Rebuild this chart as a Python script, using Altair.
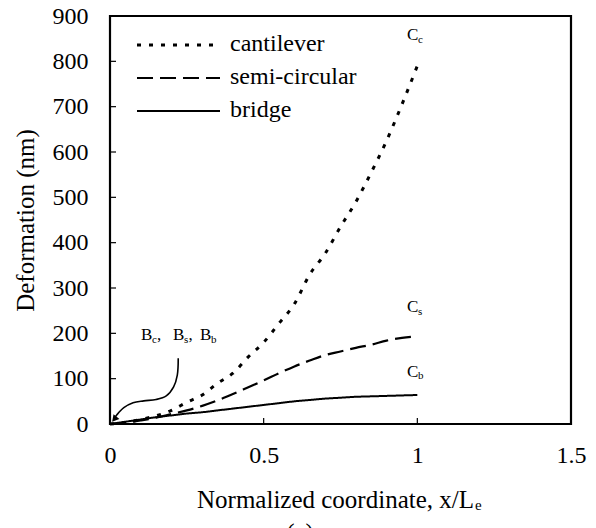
import altair as alt
import pandas as pd

# ---- data ----
x_pos = [0.0, 0.05, 0.1, 0.15, 0.2, 0.25, 0.3, 0.35, 0.4, 0.45, 0.5,
         0.55, 0.6, 0.65, 0.7, 0.75, 0.8, 0.85, 0.9, 0.95, 1.0]
cantilever = [0, 3, 10, 18, 30, 48, 64, 90, 112, 148, 180,
              222, 265, 330, 376, 435, 490, 555, 625, 705, 790]
semi_circular = [0, 3, 8, 14, 22, 30, 40, 52, 66, 81, 96,
                 112, 127, 140, 152, 160, 168, 175, 184, 190, 193]
bridge = [0, 5, 10, 15, 19, 23, 26, 30, 34, 38, 42,
          46, 50, 53, 56, 58, 60, 61, 62, 63, 64]
series_names = ["cantilever", "semi-circular", "bridge"]
series_values = [cantilever, semi_circular, bridge]

x_ticks = [0, 0.5, 1, 1.5]
y_ticks = [0, 100, 200, 300, 400, 500, 600, 700, 800, 900]

# annotation curve (B labels -> origin), in data units
arrow_x = [0.222, 0.219, 0.207, 0.183, 0.150, 0.110, 0.075, 0.045, 0.022, 0.012]
arrow_y = [145, 108, 82, 62, 54, 51, 47, 36, 20, 11]
arrow_head = (0.014, 10.6)

# annotation labels: text, x, y, kind (main / sub)
ann_text = ["B", "c", ",", "B", "s", ",", "B", "b",
            "C", "c", "C", "s", "C", "b"]
ann_x = [0.101, 0.1365, 0.153, 0.205, 0.241, 0.2555, 0.293, 0.3287,
         0.9665, 1.002, 0.9665, 1.002, 0.9665, 1.002]
ann_y = [185, 178, 185, 185, 178, 185, 185, 178,
         847, 840, 247, 240, 104, 99]
ann_kind = ["main", "sub", "main", "main", "sub", "main", "main", "sub",
            "main", "sub", "main", "sub", "main", "sub"]

x_title_main = "Normalized coordinate, x/L"
x_title_sub = "e"
y_title = "Deformation (nm)"
panel_label = "(a)"

# ---- styling ----
FONT = "Liberation Serif, Times New Roman, Times, serif"
W, H = 461, 408
dashes = {"cantilever": [4, 8], "semi-circular": [16, 7], "bridge": [1, 0]}
widths = {"cantilever": 3.0, "semi-circular": 2.2, "bridge": 2.0}

xscale = alt.Scale(domain=[0, 1.5], nice=False, zero=False)
yscale = alt.Scale(domain=[0, 900], nice=False)
xaxis = alt.Axis(values=x_ticks, format="~g", labelFont=FONT, labelFontSize=24,
                 labelColor="black", ticks=False, domain=False, grid=False,
                 labelPadding=19, labelFlush=False, title=None)
yaxis = alt.Axis(values=y_ticks, labelFont=FONT, labelFontSize=24,
                 labelColor="black", ticks=False, domain=False, grid=False,
                 labelPadding=22, labelFlush=False, title=y_title,
                 titleFont=FONT, titleFontSize=25, titleFontWeight="normal",
                 titleColor="black", titlePadding=14)


def X(field="x"):
    return alt.X(f"{field}:Q", scale=xscale, axis=xaxis)


def Y(field="y"):
    return alt.Y(f"{field}:Q", scale=yscale, axis=yaxis)


layers = []

# series
for name, vals in zip(series_names, series_values):
    df = pd.DataFrame({"x": x_pos, "y": vals})
    layers.append(alt.Chart(df).mark_line(
        color="black", strokeWidth=widths[name], strokeDash=dashes[name],
        strokeCap="butt", interpolate="monotone").encode(x=X(), y=Y()))

# inward ticks
ytk = pd.DataFrame({"y": y_ticks[1:-1]})
layers.append(alt.Chart(ytk).mark_rule(color="black", strokeWidth=1.2).encode(
    y=Y(), x=alt.value(0), x2=alt.value(6)))
xtk = pd.DataFrame({"x": x_ticks[1:-1]})
layers.append(alt.Chart(xtk).mark_rule(color="black", strokeWidth=1.2).encode(
    x=X(), y=alt.value(H), y2=alt.value(H - 6)))

# annotation arrow curve
adf = pd.DataFrame({"x": arrow_x, "y": arrow_y, "o": list(range(len(arrow_x)))})
layers.append(alt.Chart(adf).mark_line(
    color="black", strokeWidth=1.6, interpolate="catmull-rom").encode(
    x=X(), y=Y(), order="o:Q"))
hdf = pd.DataFrame({"x": [arrow_head[0]], "y": [arrow_head[1]]})
layers.append(alt.Chart(hdf).mark_point(
    shape="triangle-up", filled=True, color="black", size=60, angle=220,
    opacity=1).encode(x=X(), y=Y()))

# annotation labels
tdf = pd.DataFrame({"t": ann_text, "x": ann_x, "y": ann_y, "k": ann_kind})
for kind, size in (("main", 17), ("sub", 11)):
    layers.append(alt.Chart(tdf[tdf.k == kind]).mark_text(
        font=FONT, fontSize=size, color="black", align="left",
        baseline="alphabetic").encode(x=X(), y=Y(), text="t:N"))

# legend (drawn inside the plot, top-left)
for i, name in enumerate(series_names):
    ldf = pd.DataFrame({"name": [name]})
    layers.append(alt.Chart(ldf).mark_rule(
        color="black", strokeWidth=widths[name], strokeDash=dashes[name],
        strokeCap="butt").encode(
        x=alt.value(27), x2=alt.value(110), y=alt.value(29 + 33 * i)))
    layers.append(alt.Chart(ldf).mark_text(
        font=FONT, fontSize=24, color="black", align="left",
        baseline="alphabetic").encode(
        x=alt.value(120), y=alt.value(35 + 33 * i), text="name:N"))

# x-axis title with subscript, and panel label
one = pd.DataFrame({"a": [0]})
layers.append(alt.Chart(one).mark_text(
    text=x_title_main, font=FONT, fontSize=25, color="black", align="right",
    baseline="alphabetic").encode(x=alt.value(364), y=alt.value(492)))
layers.append(alt.Chart(one).mark_text(
    text=x_title_sub, font=FONT, fontSize=15, color="black", align="left",
    baseline="alphabetic").encode(x=alt.value(365), y=alt.value(494)))
layers.append(alt.Chart(one).mark_text(
    text=panel_label, font=FONT, fontSize=25, color="black", align="center",
    baseline="alphabetic").encode(x=alt.value(190), y=alt.value(525)))

chart = alt.layer(*layers).properties(
    width=W, height=H,
    autosize=alt.AutoSizeParams(type="none"),
    padding={"left": 110, "top": 16, "right": 25, "bottom": 104},
    background="white",
).configure_view(stroke="black", strokeWidth=2.2)

chart.save("out.html", embed_options={"renderer": "svg", "actions": False})
